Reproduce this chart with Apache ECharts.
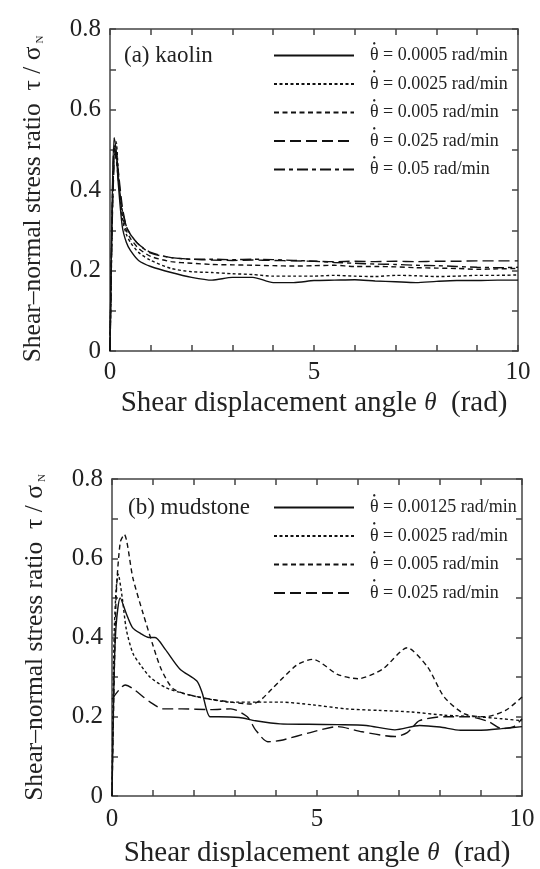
<!DOCTYPE html>
<html>
<head>
<meta charset="utf-8">
<script src="https://cdn.jsdelivr.net/npm/echarts@6/dist/echarts.min.js"></script>
<style>
html,body{margin:0;padding:0;background:#fff;}
#chart{width:540px;height:869px;}
</style>
</head>
<body>
<div id="chart"></div>
<script>
// ---------- DATA ----------
// (a) kaolin
const kaolinTheta = [0, 0.05, 0.1, 0.15, 0.2, 0.3, 0.4, 0.5, 0.7, 1.0, 1.5, 2.0, 2.5, 3.0, 3.5, 4.0, 4.5, 5.0, 5.5, 6.0, 6.5, 7.0, 7.5, 8.0, 8.5, 9.0, 9.5, 10];
const kaolin0005 = [0, 0.35, 0.53, 0.50, 0.42, 0.31, 0.27, 0.25, 0.225, 0.21, 0.195, 0.183, 0.176, 0.183, 0.183, 0.170, 0.170, 0.175, 0.176, 0.177, 0.174, 0.172, 0.170, 0.173, 0.175, 0.175, 0.176, 0.176];
const kaolin0025 = [0, 0.30, 0.50, 0.52, 0.45, 0.33, 0.29, 0.27, 0.245, 0.225, 0.205, 0.197, 0.195, 0.192, 0.190, 0.186, 0.186, 0.186, 0.188, 0.186, 0.185, 0.188, 0.187, 0.185, 0.186, 0.188, 0.188, 0.189];
const kaolin005 = [0, 0.32, 0.48, 0.50, 0.44, 0.34, 0.30, 0.28, 0.255, 0.235, 0.222, 0.218, 0.215, 0.214, 0.213, 0.212, 0.211, 0.212, 0.213, 0.210, 0.210, 0.209, 0.207, 0.206, 0.205, 0.203, 0.204, 0.205];
const kaolin025 = [0, 0.30, 0.46, 0.49, 0.45, 0.36, 0.31, 0.29, 0.265, 0.245, 0.232, 0.228, 0.226, 0.225, 0.226, 0.225, 0.224, 0.223, 0.222, 0.223, 0.222, 0.223, 0.222, 0.223, 0.223, 0.224, 0.224, 0.224];
const kaolin05 = [0, 0.33, 0.51, 0.48, 0.43, 0.35, 0.31, 0.29, 0.265, 0.243, 0.232, 0.228, 0.228, 0.227, 0.228, 0.227, 0.225, 0.223, 0.220, 0.218, 0.216, 0.215, 0.213, 0.212, 0.210, 0.208, 0.207, 0.208];

// (b) mudstone
const mud00125Theta = [0, 0.05, 0.1, 0.2, 0.35, 0.5, 0.7, 0.9, 1.05, 1.3, 1.66, 2.07, 2.2, 2.39, 2.6, 3.1, 3.5, 4.1, 4.8, 5.5, 6.2, 6.9, 7.5, 8.0, 8.5, 9.0, 9.5, 10];
const mud00125 = [0, 0.30, 0.43, 0.50, 0.46, 0.425, 0.41, 0.40, 0.40, 0.37, 0.32, 0.29, 0.26, 0.20, 0.20, 0.198, 0.19, 0.182, 0.181, 0.180, 0.178, 0.167, 0.178, 0.174, 0.166, 0.166, 0.170, 0.175];
const mud0025Theta = [0, 0.05, 0.1, 0.15, 0.25, 0.35, 0.51, 0.7, 0.93, 1.3, 1.7, 2.1, 2.9, 3.5, 4.1, 4.9, 5.7, 6.5, 7.3, 8.1, 8.9, 9.5, 10];
const mud0025 = [0, 0.40, 0.52, 0.56, 0.50, 0.42, 0.36, 0.33, 0.30, 0.274, 0.26, 0.25, 0.237, 0.237, 0.237, 0.23, 0.22, 0.216, 0.212, 0.204, 0.20, 0.195, 0.19];
const mud005Theta = [0, 0.1, 0.2, 0.3, 0.51, 0.76, 1.0, 1.2, 1.5, 2.1, 2.9, 3.4, 3.6, 3.9, 4.5, 4.9, 5.5, 6.0, 6.6, 7.2, 7.7, 8.1, 8.6, 9.1, 9.6, 10];
const mud005 = [0, 0.50, 0.64, 0.66, 0.55, 0.46, 0.38, 0.32, 0.27, 0.25, 0.237, 0.232, 0.24, 0.27, 0.33, 0.345, 0.307, 0.296, 0.32, 0.374, 0.325, 0.25, 0.207, 0.20, 0.216, 0.25];
const mud025Theta = [0, 0.32, 0.93, 1.25, 1.7, 2.4, 2.9, 3.3, 3.5, 3.8, 4.1, 4.9, 5.5, 6.1, 6.9, 7.2, 7.5, 8.1, 8.7, 9.2, 9.5, 9.8, 10];
const mud025 = [0.244, 0.28, 0.237, 0.22, 0.22, 0.218, 0.22, 0.20, 0.167, 0.137, 0.14, 0.162, 0.175, 0.162, 0.15, 0.16, 0.19, 0.20, 0.20, 0.187, 0.17, 0.175, 0.195];

const xTickLabels = [0, 5, 10];
const yTickLabels = [0, 0.2, 0.4, 0.6, 0.8];

const ratesK = ['0.0005', '0.0025', '0.005', '0.025', '0.05'];
const ratesM = ['0.00125', '0.0025', '0.005', '0.025'];
const nameK = ratesK.map(r => 'θ\u0307 = ' + r + ' rad/min');
const nameM = ratesM.map(r => 'θ\u0307 = ' + r + ' rad/min');

// ---------- STYLE ----------
const FONT = 'Liberation Serif';
const AX = '#444';
const TXT = '#222';
const styles = {
  solid: 'solid',
  dotted: [3, 2.5],
  dashed: [5, 3.5],
  long: [11, 5],
  dashdot: [11, 4, 4, 4]
};

function pairs(xs, ys) { return xs.map((x, i) => [x, ys[i]]); }

function xLab(v) {
  const r = Math.round(v);
  return (Math.abs(v - r) < 1e-6 && xTickLabels.indexOf(r) >= 0) ? String(r) : '';
}
function yLab(v) {
  const r = Math.round(v * 10) / 10;
  const hit = yTickLabels.some(t => Math.abs(t - r) < 1e-6);
  if (!hit) return '';
  return r === 0 ? '0' : r.toFixed(1);
}

function xAxes(gi) {
  return [
    {
      gridIndex: gi, type: 'value', min: 0, max: 10, interval: 1, position: 'bottom',
      axisLine: { show: true, onZero: false, lineStyle: { color: AX, width: 1.5 } },
      axisTick: { show: true, inside: true, length: 6, lineStyle: { color: AX, width: 1.5 } },
      axisLabel: { formatter: xLab, fontFamily: FONT, fontSize: 25, color: TXT, margin: gi === 0 ? 9 : 11, showMinLabel: true, showMaxLabel: true },
      splitLine: { show: false },
      name: 'Shear displacement angle {t|θ}  (rad)', nameLocation: 'middle', nameGap: gi === 0 ? 38 : 43,
      nameTextStyle: { fontFamily: FONT, fontSize: 29, color: TXT, rich: { t: { fontSize: 25, fontFamily: FONT, fontStyle: 'italic', color: TXT } } }
    },
    {
      gridIndex: gi, type: 'value', min: 0, max: 10, interval: 1, position: 'top',
      axisLine: { show: true, onZero: false, lineStyle: { color: AX, width: 1.5 } },
      axisTick: { show: true, inside: true, length: 6, lineStyle: { color: AX, width: 1.5 } },
      axisLabel: { show: false }, splitLine: { show: false }
    }
  ];
}
function yAxes(gi) {
  return [
    {
      gridIndex: gi, type: 'value', min: 0, max: 0.8, interval: 0.1, position: 'left',
      axisLine: { show: true, onZero: false, lineStyle: { color: AX, width: 1.5 } },
      axisTick: { show: true, inside: true, length: 6, lineStyle: { color: AX, width: 1.5 } },
      axisLabel: { formatter: yLab, fontFamily: FONT, fontSize: 25, color: TXT, margin: 9 },
      splitLine: { show: false },
      name: 'Shear–normal stress ratio  τ / σ{s|N}', nameLocation: 'middle', nameGap: 64,
      nameTextStyle: {
        fontFamily: FONT, fontSize: 25.5, color: TXT, padding: gi === 0 ? [0, 18, 0, 0] : 0,
        rich: { s: { fontFamily: FONT, fontSize: 11, color: TXT, verticalAlign: 'bottom', padding: [0, 0, 0, 3] } }
      }
    },
    {
      gridIndex: gi, type: 'value', min: 0, max: 0.8, interval: 0.1, position: 'right',
      axisLine: { show: true, onZero: false, lineStyle: { color: AX, width: 1.5 } },
      axisTick: { show: true, inside: true, length: 6, lineStyle: { color: AX, width: 1.5 } },
      axisLabel: { show: false }, splitLine: { show: false }
    }
  ];
}

function line(name, data, dash, xi, yi) {
  return {
    type: 'line', name: name, data: data, xAxisIndex: xi, yAxisIndex: yi,
    symbol: 'none', smooth: 0.25, animation: false,
    itemStyle: { color: '#111' },
    lineStyle: { color: '#111', width: 1.4, type: dash }
  };
}

const series = [
  line(nameK[0], pairs(kaolinTheta, kaolin0005), styles.solid, 0, 0),
  line(nameK[1], pairs(kaolinTheta, kaolin0025), styles.dotted, 0, 0),
  line(nameK[2], pairs(kaolinTheta, kaolin005), styles.dashed, 0, 0),
  line(nameK[3], pairs(kaolinTheta, kaolin025), styles.long, 0, 0),
  line(nameK[4], pairs(kaolinTheta, kaolin05), styles.dashdot, 0, 0),
  line(nameM[0], pairs(mud00125Theta, mud00125), styles.solid, 2, 2),
  line(nameM[1], pairs(mud0025Theta, mud0025), styles.dotted, 2, 2),
  line(nameM[2], pairs(mud005Theta, mud005), styles.dashed, 2, 2),
  line(nameM[3], pairs(mud025Theta, mud025), styles.long, 2, 2)
];

// legend label: dot drawn on its own short line above θ, blank short line below keeps the text centred on the icon
const legendBase = {
  orient: 'vertical', itemWidth: 80, itemHeight: 14, itemGap: -2, selectedMode: false, padding: 0,
  itemStyle: { opacity: 0 },
  formatter: n => '{d|•}\n{n|' + n.replace('\u0307', '') + '}\n{e| }',
  textStyle: {
    fontFamily: FONT, fontSize: 18, color: TXT, padding: [0, 0, 0, 11],
    rich: {
      d: { fontFamily: FONT, fontSize: 10, lineHeight: 5, color: TXT, padding: [0, 0, 0, 2.5] },
      n: { fontFamily: FONT, fontSize: 18, lineHeight: 18, color: TXT },
      e: { fontFamily: FONT, fontSize: 5, lineHeight: 5, color: TXT }
    }
  }
};

const option = {
  animation: false,
  backgroundColor: '#fff',
  title: [
    { text: '(a) kaolin', left: 124, top: 44, padding: 0, textStyle: { fontFamily: FONT, fontSize: 23, fontWeight: 'normal', color: TXT } },
    { text: '(b) mudstone', left: 128, top: 496, padding: 0, textStyle: { fontFamily: FONT, fontSize: 23, fontWeight: 'normal', color: TXT } }
  ],
  grid: [
    { left: 110, top: 29, width: 408, height: 322 },
    { left: 112, top: 479, width: 410, height: 321 }
  ],
  xAxis: [...xAxes(0), ...xAxes(1)],
  yAxis: [...yAxes(0), ...yAxes(1)],
  legend: [
    Object.assign({}, legendBase, { left: 273, top: 39, data: nameK }),
    Object.assign({}, legendBase, { left: 273, top: 491, data: nameM })
  ],
  series: series
};

const chart = echarts.init(document.getElementById('chart'), null, { renderer: 'canvas' });
chart.setOption(option);
</script>
</body>
</html>
